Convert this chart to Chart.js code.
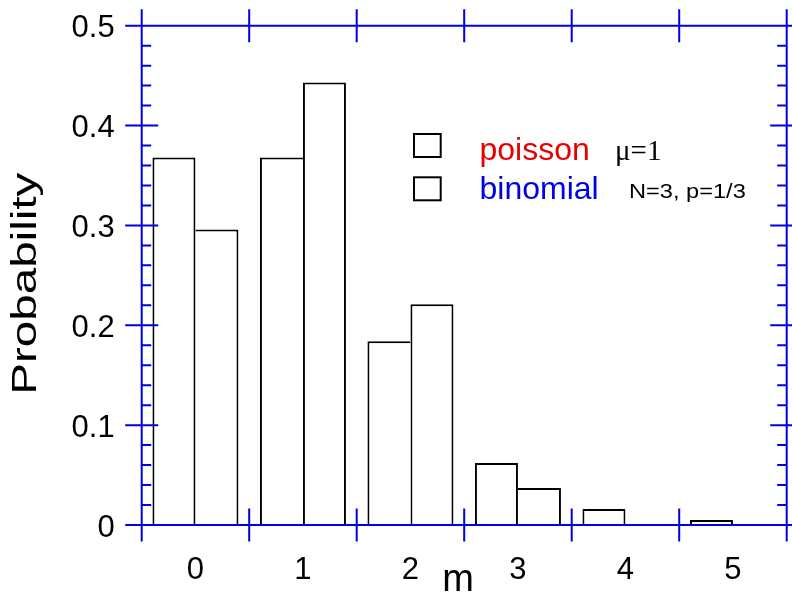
<!DOCTYPE html>
<html><head><meta charset="utf-8">
<script src="https://cdn.jsdelivr.net/npm/chart.js@4.4.1/dist/chart.umd.min.js"></script>
<style>html,body{margin:0;padding:0;background:#fff}#wrap{width:792px;height:597px;position:relative}</style>
</head><body><div id="wrap"><canvas id="c"></canvas></div>
<script>
const categories = ['0', '1', '2', '3', '4', '5'];
const poissonValues = [0.368, 0.368, 0.184, 0.062, 0.016, 0.005];
const binomialValues = [0.296, 0.443, 0.221, 0.037, 0, 0];
const yTickLabels = ['0', '0.1', '0.2', '0.3', '0.4', '0.5'];
const seriesNames = ['poisson', 'binomial'];
const seriesNotes = ['\u03bc=1', 'N=3, p=1/3'];
const xTitle = 'm';
const yTitle = 'Probability';

const BLUE = 'rgb(0,0,230)';
const RED = 'rgb(230,0,0)';
const SANS = "'Liberation Sans', Arial, sans-serif";
const SERIF = "'Liberation Serif', 'Times New Roman', serif";

const framePlugin = {
  id: 'frame',
  afterDatasetsDraw(chart) {
    const {ctx, chartArea: ca, scales: {x, y}} = chart;
    const ext = 16.5, minor = 9.5;
    ctx.save();
    ctx.strokeStyle = BLUE; ctx.lineWidth = 2; ctx.lineCap = 'butt';
    ctx.beginPath();
    ctx.moveTo(ca.left - ext, ca.top); ctx.lineTo(ca.right + ext, ca.top);
    ctx.moveTo(ca.left - ext, ca.bottom); ctx.lineTo(ca.right + ext, ca.bottom);
    ctx.moveTo(ca.left, ca.top - ext); ctx.lineTo(ca.left, ca.bottom + ext);
    ctx.moveTo(ca.right, ca.top - ext); ctx.lineTo(ca.right, ca.bottom + ext);
    for (let i = 0; i <= categories.length; i++) {
      const px = x.getPixelForValue(i - 0.5);
      ctx.moveTo(px, ca.top - ext); ctx.lineTo(px, ca.top + ext);
      ctx.moveTo(px, ca.bottom - ext); ctx.lineTo(px, ca.bottom + ext);
    }
    const t = y.ticks.map(k => k.value);
    for (let i = 0; i < t.length; i++) {
      const py = y.getPixelForValue(t[i]);
      ctx.moveTo(ca.left - ext, py); ctx.lineTo(ca.left + ext, py);
      ctx.moveTo(ca.right - ext, py); ctx.lineTo(ca.right + ext, py);
      if (i < t.length - 1) {
        for (let m = 1; m < 5; m++) {
          const pm = y.getPixelForValue(t[i] + (t[i + 1] - t[i]) * m / 5);
          ctx.moveTo(ca.left, pm); ctx.lineTo(ca.left + minor, pm);
          ctx.moveTo(ca.right - minor, pm); ctx.lineTo(ca.right, pm);
        }
      }
    }
    ctx.stroke();
    ctx.restore();
  }
};

const legendPlugin = {
  id: 'customLegend',
  afterDraw(chart) {
    const {ctx, chartArea: ca} = chart;
    const bx = ca.left + 272.3, by = [ca.top + 108.3, ca.top + 151.6];
    const colors = [RED, BLUE];
    ctx.save();
    ctx.strokeStyle = '#000'; ctx.lineWidth = 2;
    for (let i = 0; i < 2; i++) {
      ctx.strokeRect(bx, by[i], 26.7, 23);
      ctx.fillStyle = colors[i];
      ctx.font = '32px ' + SANS;
      ctx.textBaseline = 'alphabetic'; ctx.textAlign = 'left';
      ctx.fillText(seriesNames[i], bx + 65.5, by[i] + (i === 0 ? 25.5 : 22));
    }
    ctx.fillStyle = '#000';
    ctx.font = '29px ' + SERIF;
    ctx.fillText(seriesNotes[0], bx + 201, by[0] + 26);
    ctx.save();
    ctx.translate(bx + 215, by[1] + 20.5);
    ctx.scale(1.18, 1);
    ctx.font = '20px ' + SANS;
    ctx.fillText(seriesNotes[1], 0, 0);
    ctx.restore();
    ctx.restore();
  }
};

const titlePatch = {
  id: 'titlePatch',
  beforeDraw(chart) {
    const patch = (scale, fn) => {
      if (scale._titlePatched) return;
      const orig = scale.drawTitle;
      scale.drawTitle = function () {
        const c = this.ctx; c.save(); fn(c, this); orig.call(this); c.restore();
      };
      scale._titlePatched = true;
    };
    patch(chart.scales.y, (c, s) => {
      const cy = (s.top + s.bottom) / 2;
      c.translate(0, cy + 8.4); c.scale(1, 1.36); c.translate(0, -cy);
    });
    patch(chart.scales.x, (c) => { c.translate(-6, 6); });
  }
};

new Chart(document.getElementById('c'), {
  type: 'bar',
  data: {
    labels: categories,
    datasets: [
      {
        label: seriesNames[0], data: poissonValues,
        backgroundColor: '#fff', borderColor: '#000', borderSkipped: false,
        borderWidth: (c) => ({top: 2, left: 2, bottom: 0,
          right: poissonValues[c.dataIndex] >= binomialValues[c.dataIndex] ? 2 : 0}),
        categoryPercentage: 0.8, barPercentage: 1.0
      },
      {
        label: seriesNames[1], data: binomialValues,
        backgroundColor: '#fff', borderColor: '#000', borderSkipped: false,
        borderWidth: (c) => ({top: 2, right: 2, bottom: 0,
          left: binomialValues[c.dataIndex] > poissonValues[c.dataIndex] ? 2 : 0}),
        categoryPercentage: 0.8, barPercentage: 1.0
      }
    ]
  },
  options: {
    responsive: true, maintainAspectRatio: false, animation: false,
    devicePixelRatio: 1,
    layout: {padding: {top: 25.7, right: 5.3, bottom: 0, left: 0}},
    plugins: {legend: {display: false}, tooltip: {enabled: false}},
    scales: {
      x: {
        type: 'category', offset: true,
        ticks: {padding: 27, color: '#000', font: {family: SANS, size: 31}, autoSkip: false, maxRotation: 0},
        grid: {display: false, drawTicks: false}, border: {display: false},
        title: {display: true, text: xTitle, color: '#000', font: {family: SANS, size: 38}, padding: 0},
        afterFit(s) { s.height = 72; s.paddingLeft = 0; s.paddingRight = 0; }
      },
      y: {
        min: 0, max: 0.5,
        ticks: {stepSize: 0.1, padding: 27, labelOffset: 3, color: '#000', font: {family: SANS, size: 31},
          callback: (v) => yTickLabels[Math.round(v * 10)]},
        grid: {display: false, drawTicks: false}, border: {display: false},
        title: {display: true, text: yTitle, color: '#000', font: {family: SANS, size: 35}, padding: {top: 5, bottom: 0}},
        afterFit(s) { s.width = 141.7; s.paddingTop = 0; s.paddingBottom = 0; }
      }
    }
  },
  plugins: [titlePatch, framePlugin, legendPlugin]
});
</script>
</body></html>
